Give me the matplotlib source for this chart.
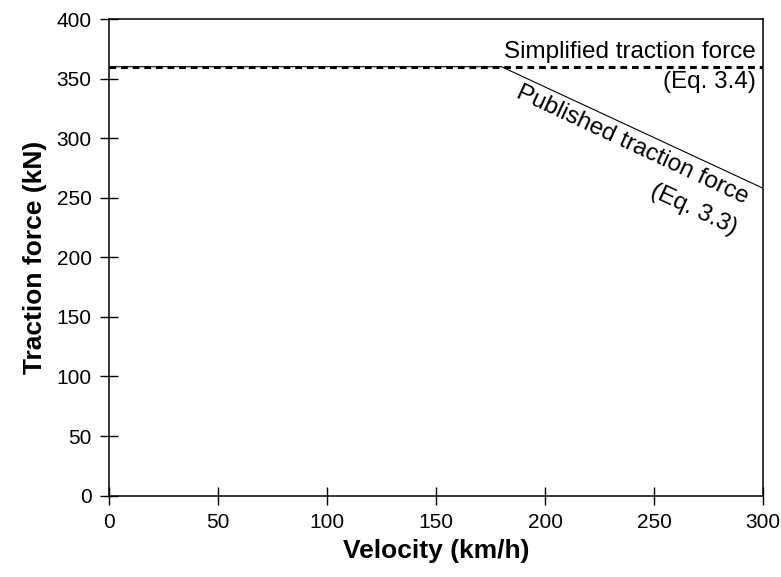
import numpy as np
import matplotlib
matplotlib.use("Agg")
import matplotlib.pyplot as plt

plt.rcParams["font.family"] = ["Liberation Sans", "DejaVu Sans"]

# ── Data ──────────────────────────────────────────────────────────────────────
published_v = [0, 180, 300]          # km/h
published_f = [360, 360, 258]        # kN (Eq. 3.3)
simplified_v = [0, 300]
simplified_f = [360, 360]            # kN (Eq. 3.4)

x_ticks = [0, 50, 100, 150, 200, 250, 300]
y_ticks = [0, 50, 100, 150, 200, 250, 300, 350, 400]

# ── Figure ────────────────────────────────────────────────────────────────────
fig = plt.figure(figsize=(7.81, 5.77), dpi=100)
ax = fig.add_axes([0.1396, 0.141, 0.8374, 0.826])

ax.plot(published_v, published_f, color="black", linewidth=0.8)
ax.plot(simplified_v, simplified_f, color="black", linewidth=2.2,
        linestyle=(0, (2.2, 1.6)))

ax.set_xlim(0, 300)
ax.set_ylim(0, 400)
ax.set_xticks(x_ticks)
ax.set_yticks(y_ticks)
ax.tick_params(direction="inout", length=13, width=1.0, pad=6, labelsize=15)
for sp in ax.spines.values():
    sp.set_linewidth(1.1)

ax.set_xlabel("Velocity (km/h)", fontsize=19, fontweight="bold", labelpad=5)
ax.set_ylabel("Traction force (kN)", fontsize=19, fontweight="bold", labelpad=7)

ax.text(296.5, 363.5, "Simplified traction force", ha="right", va="bottom",
        fontsize=17.5)
ax.text(296.5, 356, "(Eq. 3.4)", ha="right", va="top", fontsize=17.5)

ax.text(240, 294, "Published traction force", ha="center", va="center",
        rotation=-25, fontsize=17.5)
ax.text(268, 240, "(Eq. 3.3)", ha="center", va="center",
        rotation=-25, fontsize=17.5)

fig.savefig("out.png", dpi=100)
